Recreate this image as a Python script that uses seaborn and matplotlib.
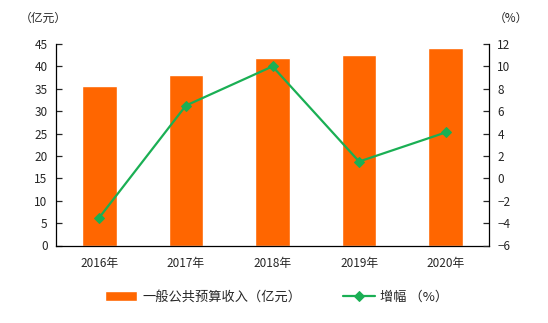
import matplotlib
matplotlib.use("Agg")
import matplotlib.pyplot as plt
import seaborn as sns
import numpy as np
import pandas as pd

years = ["2016年", "2017年", "2018年", "2019年", "2020年"]
revenue = [35.6, 38.1, 41.9, 42.5, 44.1]
growth = [-3.5, 6.5, 10.0, 1.5, 4.1]

bar_label = "一般公共预算收入（亿元）"
line_label = "增幅 （%）"

sns.set_style("white")
plt.rcParams["font.family"] = ["Noto Sans CJK SC", "DejaVu Sans"]
plt.rcParams["axes.unicode_minus"] = True

orange = "#FF6600"
green = "#1AAF54"

df = pd.DataFrame({"year": years, "revenue": revenue, "growth": growth})

fig = plt.figure(figsize=(5.48, 3.23), dpi=100)
ax = fig.add_axes([56 / 548, 1 - 245.5 / 323, (489 - 56) / 548, (245.5 - 44) / 323])

sns.barplot(data=df, x="year", y="revenue", color=orange, width=0.4,
            saturation=1, ax=ax, label=bar_label)
ax.set_xlim(-0.5, 4.5)
ax.set_ylim(0, 45)
ax.set_yticks(np.arange(0, 46, 5))
ax.set_xlabel("")
ax.set_ylabel("")

ax2 = ax.twinx()
sns.lineplot(x=np.arange(len(years)), y=growth, color=green, marker="D",
             markersize=5, markeredgecolor=green, linewidth=1.6, ax=ax2,
             label=line_label)
ax2.set_ylim(-6, 12)
ax2.set_yticks(np.arange(-6, 13, 2))
ax2.set_xlim(-0.5, 4.5)

# Ticks: inward on both value axes, x ticks at category boundaries
ax.set_xticks(np.arange(len(years)))
ax.set_xticklabels(years)
ax.set_xticks(np.arange(-0.5, 4.6, 1), minor=True)
ax.tick_params(axis="x", which="major", length=0, pad=8, labelsize=8.5)
ax.tick_params(axis="x", which="minor", direction="in", length=5, width=0.9)
ax.tick_params(axis="y", direction="in", length=4, width=0.9, labelsize=8.5, pad=6)
ax2.tick_params(axis="y", direction="in", length=4, width=0.9, labelsize=8.5, pad=6)

for a in (ax, ax2):
    for s in a.spines.values():
        s.set_color("black")
        s.set_linewidth(0.9)
    a.spines["top"].set_visible(False)
ax2.spines["bottom"].set_visible(False)
ax2.spines["left"].set_visible(False)
ax.spines["right"].set_visible(False)

fig.text(20 / 548, 1 - 18 / 323, "（亿元）", fontsize=8.5, va="center", ha="left")
fig.text(494 / 548, 1 - 18 / 323, "（%）", fontsize=8.5, va="center", ha="left")

h1, l1 = ax.get_legend_handles_labels()
h2, l2 = ax2.get_legend_handles_labels()
if ax.get_legend():
    ax.get_legend().remove()
if ax2.get_legend():
    ax2.get_legend().remove()
fig.legend(h1 + h2, l1 + l2, loc="center", bbox_to_anchor=(0.505, 1 - 297 / 323),
           ncol=2, frameon=False, fontsize=9.5, handlelength=2.4, handleheight=0.7,
           columnspacing=3.2, handletextpad=0.4)

fig.savefig("out.png", dpi=100)
